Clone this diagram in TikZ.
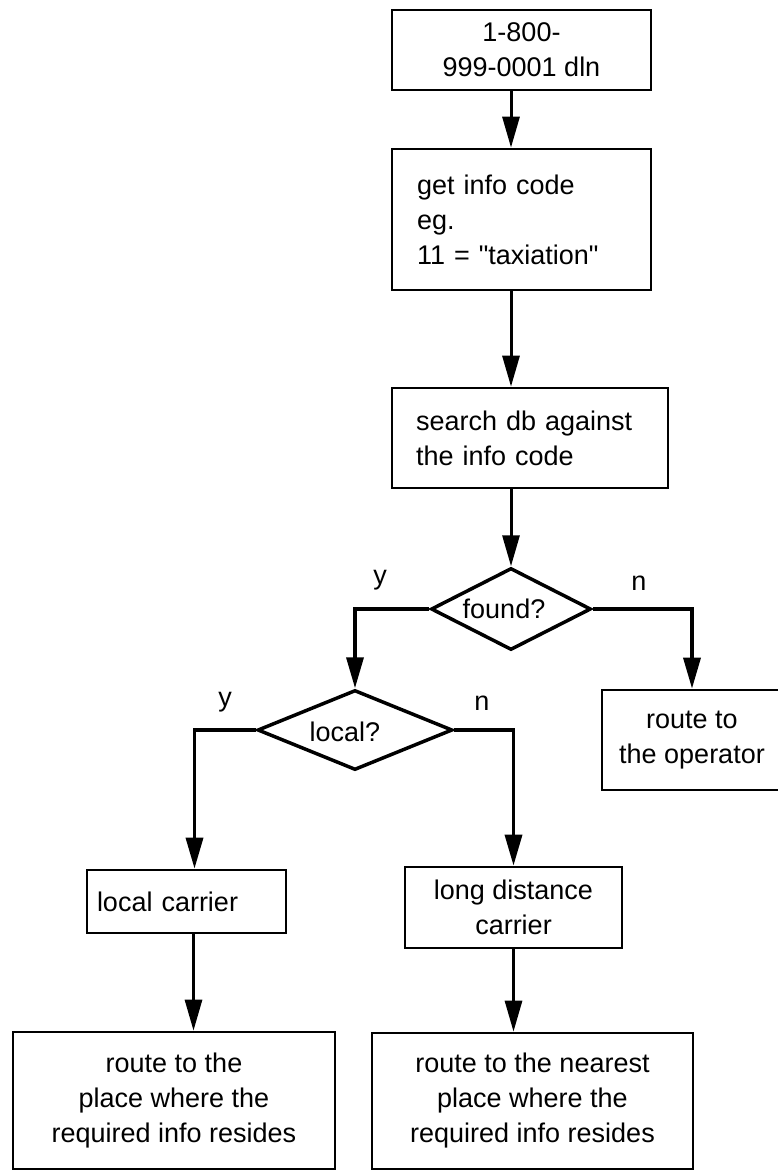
\documentclass[tikz,border=0pt]{standalone}
\usepackage{fontspec}
\setmainfont{Liberation Sans}[Ligatures=TeXOff]
\usetikzlibrary{arrows.meta,shapes.geometric}
\newcommand\flowfont{\fontsize{27}{35}\selectfont}
\tikzset{
  box/.style={draw, line width=2.7pt, rectangle, inner sep=0pt, align=center, font=\flowfont},
  leftbox/.style={box, align=left},
  decision/.style={draw, line width=3.5pt, diamond, inner sep=0pt},
  arr/.style={line width=3pt, -{Triangle[length=31pt,width=17pt]}},
  branch/.style={arr, line width=3.5pt},
  tag/.style={font=\flowfont, inner sep=0pt},
}
\begin{document}
\begin{tikzpicture}[x=1pt,y=-1pt]
\useasboundingbox (0,0) rectangle (778,1171);
\clip (0,0) rectangle (778,1171);

% process boxes and decisions
\node[box, minimum width=259pt, minimum height=80pt] (box1) at (521.5,50) {1-800-\\999-0001 dln};
\node[leftbox, text width=209pt, inner xsep=25pt, minimum height=141pt] (box2) at (521.5,219.5)
  {get info code\\eg.\\11 = "taxiation"};
\node[leftbox, text width=228pt, inner xsep=24pt, minimum height=100pt] (box3) at (530,438)
  {search db against\\the info code};
\node[decision, minimum width=160pt, minimum height=82pt] (found) at (511,609) {};
\node[tag] (foundtxt) at ([xshift=-7pt]found.center) {found?};
\node[decision, minimum width=195pt, minimum height=80pt] (local) at (355,730) {};
\node[tag] (localtxt) at ([xshift=-10pt, yshift=-2pt]local.center) {local?};
\node[box, minimum width=180pt, minimum height=100pt] (oper) at (692,740) {route to\\the operator};
\node[leftbox, text width=179pt, inner xsep=10pt, minimum height=63pt] (lcar) at (186.5,901.5) {local carrier};
\node[box, minimum width=217pt, minimum height=81pt] (ldist) at (513.5,907.5) {long distance\\carrier};
\node[box, minimum width=322pt, minimum height=137pt] (bl) at (174,1100.5)
  {route to the\\place where the\\required info resides};
\node[box, minimum width=321pt, minimum height=136pt] (br) at (532.5,1101)
  {route to the nearest\\place where the\\required info resides};

% branch labels
\node[tag] (ly1) at (380,580) {y};
\node[tag] (ln1) at (639,583) {n};
\node[tag] (ly2) at (225,702) {y};
\node[tag] (ln2) at (482,703) {n};

% connector anchors off the box centres
\coordinate (lcin) at ([xshift=8pt]lcar.north);
\coordinate (lcout) at ([xshift=7pt]lcar.south);

% connectors
\draw[arr] (box1.south -| found.north) -- (box2.north -| found.north);
\draw[arr] (box2.south -| found.north) -- (box3.north -| found.north);
\draw[arr] (box3.south -| found.north) -- (found.north);
\draw[branch] (found.west) -| (local.north);
\draw[branch] (found.east) -| (oper.north);
\draw[branch] (local.west) -| (lcin);
\draw[branch] (local.east) -| (ldist.north);
\draw[arr] (lcout) -- (lcout |- bl.north);
\draw[arr] (ldist.south) -- (ldist.south |- br.north);
\end{tikzpicture}
\end{document}
